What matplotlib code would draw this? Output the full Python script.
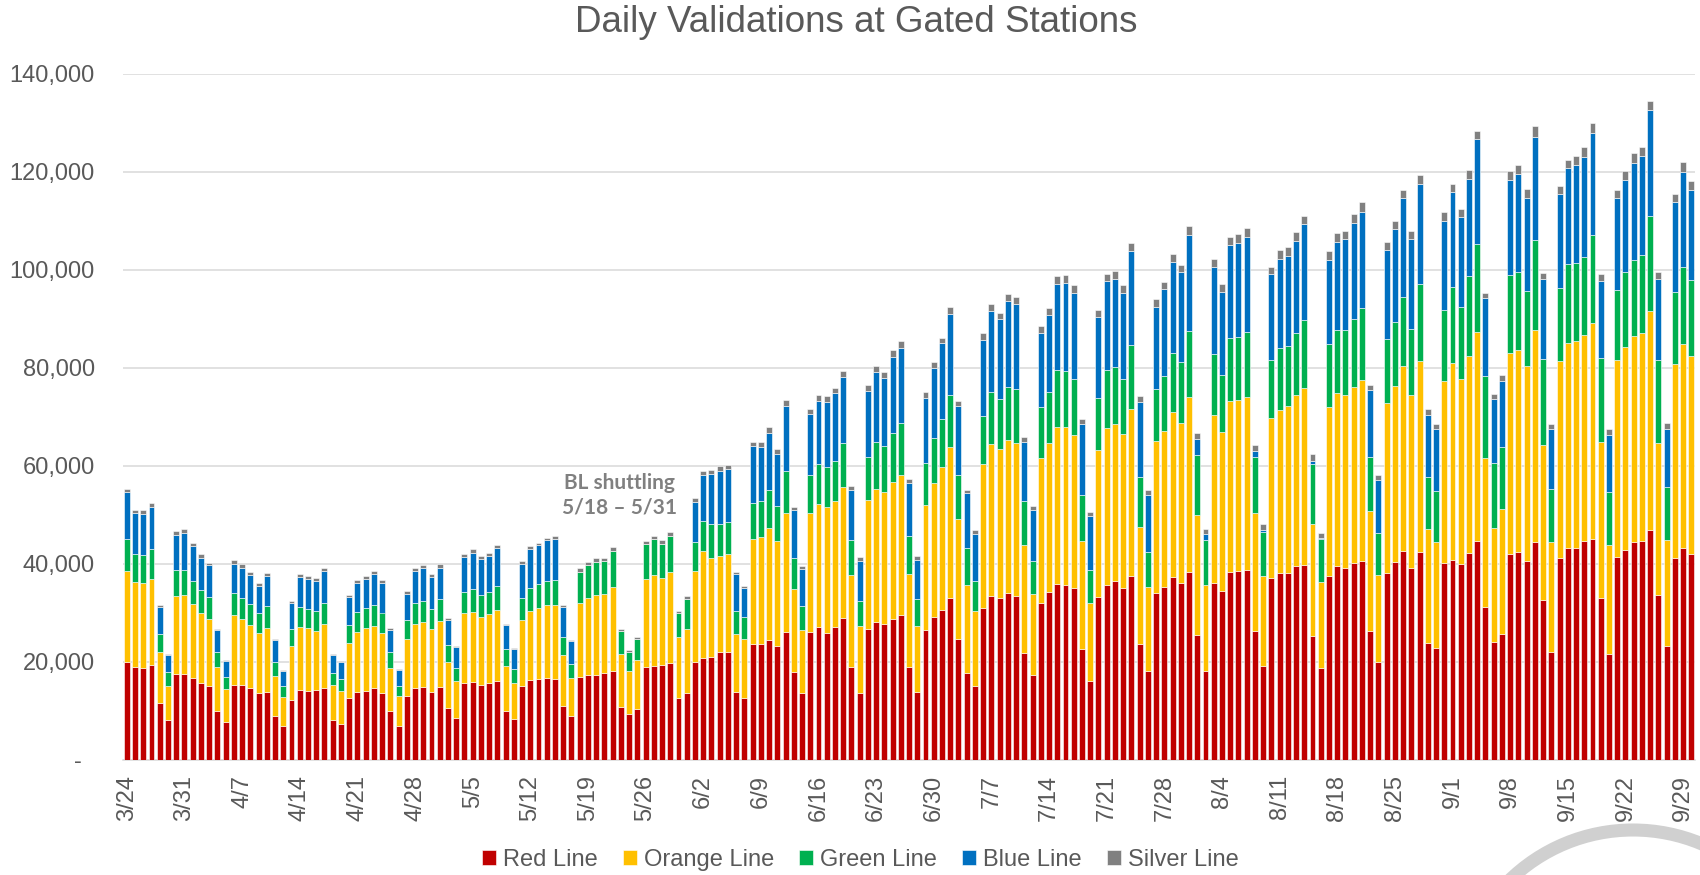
import numpy as np
import matplotlib
matplotlib.use("Agg")
import matplotlib.pyplot as plt
from matplotlib.patches import Ellipse
from matplotlib.ticker import FuncFormatter

plt.rcParams['font.family'] = ['Liberation Sans', 'DejaVu Sans']

# daily validations (thousands), 3/24 .. 9/30, one row per week starting Tuesday
red = [
    19.8, 18.9, 18.7, 19.2, 11.5, 8.0, 17.4,
    17.4, 16.6, 15.7, 14.9, 9.8, 7.7, 15.3,
    15.2, 14.5, 13.6, 13.8, 8.8, 6.8, 12.1,
    14.2, 14.0, 14.1, 14.6, 8.1, 7.3, 12.5,
    13.7, 13.9, 14.5, 13.6, 9.8, 6.9, 12.9,
    14.5, 14.8, 13.8, 14.7, 10.6, 8.5, 15.6,
    15.8, 15.3, 15.6, 16.0, 9.9, 8.3, 15.0,
    16.2, 16.4, 16.6, 16.5, 10.9, 8.9, 16.9,
    17.3, 17.2, 17.7, 18.1, 10.8, 9.3, 10.3,
    18.9, 19.1, 19.3, 19.6, 12.5, 13.6, 19.8,
    20.8, 21.0, 21.9, 21.9, 13.8, 12.5, 23.5,
    23.6, 24.4, 23.2, 26.1, 17.8, 13.6, 26.1,
    27.0, 25.9, 27.0, 28.9, 18.9, 13.6, 26.7,
    28.0, 27.6, 28.7, 29.4, 18.9, 13.8, 26.5,
    29.0, 30.6, 33.0, 24.6, 17.6, 15.1, 31.0,
    33.4, 32.9, 34.0, 33.4, 21.7, 17.3, 32.0,
    34.1, 35.9, 35.6, 35.0, 22.5, 16.1, 33.2,
    35.7, 36.5, 35.0, 37.4, 23.6, 18.1, 34.0,
    35.2, 37.2, 36.0, 38.2, 25.5, 18.1, 36.1,
    34.4, 38.2, 38.5, 38.7, 26.2, 19.0, 37.0,
    38.1, 38.1, 39.4, 39.7, 25.2, 18.6, 37.4,
    39.4, 39.0, 40.1, 40.6, 26.3, 20.0, 38.1,
    40.4, 42.5, 39.0, 42.4, 23.7, 22.8, 40.1,
    40.8, 39.8, 42.1, 44.5, 31.2, 24.0, 25.7,
    42.0, 42.3, 40.5, 44.3, 32.5, 22.0, 41.1,
    43.1, 43.2, 44.6, 45.1, 32.9, 21.6, 41.4,
    42.7, 44.3, 44.5, 46.8, 33.6, 23.2, 41.2,
    43.2, 41.9,
]
orange = [
    18.7, 17.4, 17.3, 17.7, 10.5, 7.1, 15.9,
    16.1, 15.1, 14.2, 13.8, 9.0, 6.7, 14.1,
    13.5, 12.9, 12.2, 13.0, 8.2, 6.0, 11.0,
    12.9, 12.8, 12.1, 13.0, 7.1, 6.7, 11.3,
    12.4, 12.9, 12.8, 12.2, 8.9, 6.1, 11.7,
    13.2, 13.3, 12.8, 13.6, 9.4, 7.5, 14.2,
    14.4, 13.7, 14.0, 14.6, 9.1, 7.4, 13.5,
    14.2, 14.6, 15.0, 15.0, 10.4, 7.7, 15.0,
    15.7, 16.3, 16.0, 17.2, 10.7, 8.8, 10.0,
    17.9, 18.5, 17.7, 18.7, 12.4, 13.0, 18.7,
    21.7, 20.2, 19.7, 20.1, 11.9, 12.1, 21.6,
    21.8, 22.8, 21.4, 24.3, 17.0, 12.8, 24.3,
    25.1, 25.7, 25.7, 26.7, 18.7, 13.7, 26.2,
    27.3, 27.0, 28.0, 28.7, 18.9, 13.4, 25.4,
    27.4, 29.0, 30.7, 24.5, 18.1, 15.3, 29.3,
    31.0, 30.4, 31.2, 31.1, 22.1, 16.5, 29.6,
    30.5, 31.9, 32.2, 31.3, 22.0, 15.9, 29.9,
    32.0, 32.0, 31.4, 34.1, 23.9, 17.1, 30.9,
    31.8, 33.7, 32.7, 35.8, 24.5, 17.6, 34.2,
    32.4, 34.9, 34.9, 35.3, 24.1, 18.4, 32.6,
    33.3, 34.0, 34.9, 36.1, 22.9, 17.6, 34.6,
    35.3, 35.3, 35.9, 36.9, 24.4, 17.7, 34.6,
    35.9, 37.8, 35.4, 38.9, 23.3, 21.5, 37.2,
    40.2, 37.9, 40.2, 42.7, 30.4, 23.3, 25.4,
    41.0, 41.3, 39.9, 43.3, 31.6, 22.4, 40.2,
    41.8, 42.2, 42.1, 43.9, 31.9, 22.2, 40.1,
    41.4, 42.1, 42.5, 44.7, 31.0, 21.6, 39.5,
    41.6, 40.4,
]
green = [
    6.5, 5.6, 5.7, 6.1, 3.7, 2.7, 5.4,
    5.2, 4.8, 4.6, 4.5, 3.1, 2.4, 4.5,
    4.3, 4.4, 4.1, 4.6, 3.0, 2.1, 3.6,
    4.1, 4.0, 4.2, 4.4, 2.5, 2.4, 3.6,
    4.1, 4.1, 4.2, 4.2, 3.2, 2.1, 3.9,
    4.2, 4.3, 4.2, 4.4, 3.4, 2.7, 4.4,
    4.5, 4.5, 4.5, 4.9, 3.5, 2.7, 4.5,
    4.7, 4.8, 4.9, 5.1, 3.8, 2.8, 6.4,
    6.7, 6.9, 6.9, 7.3, 4.7, 3.9, 4.2,
    7.1, 7.4, 7.0, 7.4, 4.9, 6.1, 5.8,
    6.1, 6.8, 6.4, 6.4, 4.7, 4.5, 7.3,
    7.3, 7.7, 7.2, 8.5, 6.4, 4.9, 7.7,
    8.3, 8.0, 8.2, 8.9, 7.2, 5.0, 8.9,
    9.5, 9.3, 10.0, 10.6, 7.8, 5.5, 8.7,
    9.3, 9.9, 10.7, 9.0, 7.5, 6.0, 9.9,
    10.5, 10.2, 10.9, 11.1, 8.9, 6.8, 10.4,
    10.4, 11.7, 11.5, 11.4, 9.4, 6.6, 10.6,
    11.7, 11.6, 11.3, 13.1, 10.2, 7.1, 10.7,
    11.2, 12.1, 12.4, 13.5, 12.2, 9.1, 12.4,
    11.7, 13.0, 12.8, 13.3, 11.5, 9.1, 12.0,
    12.5, 12.3, 12.8, 13.8, 12.3, 8.7, 12.7,
    13.0, 13.4, 14.0, 14.6, 11.0, 8.6, 13.2,
    13.0, 14.1, 13.5, 15.7, 10.7, 10.5, 14.5,
    15.4, 14.7, 16.3, 18.1, 16.6, 13.2, 12.6,
    15.8, 15.9, 15.3, 18.5, 17.6, 10.9, 15.0,
    16.2, 16.0, 15.9, 18.0, 17.1, 10.8, 14.4,
    15.3, 15.6, 15.9, 19.5, 16.9, 10.9, 14.8,
    15.7, 15.5,
]
blue = [
    9.5, 8.4, 8.5, 8.5, 5.4, 3.5, 7.2,
    7.6, 7.1, 6.7, 6.4, 4.5, 3.4, 6.1,
    6.1, 5.8, 5.6, 6.1, 4.3, 3.1, 5.2,
    6.1, 6.1, 6.1, 6.5, 3.6, 3.4, 5.7,
    5.9, 6.0, 6.4, 6.1, 4.6, 3.2, 5.3,
    6.6, 6.7, 6.5, 6.4, 5.1, 4.2, 7.2,
    7.5, 7.4, 7.5, 7.7, 4.9, 4.1, 7.0,
    7.9, 7.9, 8.3, 8.5, 6.1, 4.7, 0.0,
    0.0, 0.0, 0.0, 0.0, 0.0, 0.0, 0.0,
    0.0, 0.0, 0.0, 0.0, 0.0, 0.0, 8.2,
    9.4, 10.2, 10.9, 10.8, 7.4, 5.9, 11.5,
    11.1, 11.8, 10.5, 13.3, 9.7, 7.6, 12.5,
    12.8, 13.4, 13.8, 13.6, 10.3, 8.3, 13.4,
    14.3, 14.0, 15.5, 15.3, 10.9, 8.0, 13.1,
    14.3, 15.5, 16.6, 14.1, 11.1, 9.7, 15.5,
    16.7, 16.4, 17.5, 17.4, 12.1, 10.4, 15.1,
    15.8, 17.6, 18.0, 17.5, 14.6, 11.1, 16.7,
    18.2, 17.9, 17.5, 19.2, 15.3, 11.6, 16.8,
    17.8, 18.6, 18.3, 19.5, 3.2, 1.2, 17.8,
    17.0, 18.8, 19.3, 19.4, 1.2, 0.4, 17.4,
    18.3, 18.4, 18.7, 19.6, 0.6, 0.4, 17.2,
    18.0, 18.5, 19.4, 19.7, 13.8, 10.7, 18.1,
    18.9, 20.1, 18.3, 20.4, 12.7, 12.6, 18.1,
    19.4, 18.3, 19.8, 21.3, 15.9, 13.1, 13.6,
    19.5, 19.9, 18.8, 21.0, 16.3, 12.2, 19.1,
    19.6, 20.0, 20.4, 20.9, 15.8, 11.7, 18.6,
    18.9, 19.8, 20.3, 21.5, 16.6, 11.7, 18.2,
    19.4, 18.5,
]
silver = [
    0.7, 0.7, 0.7, 0.8, 0.4, 0.2, 0.7,
    0.7, 0.6, 0.7, 0.6, 0.3, 0.2, 0.7,
    0.7, 0.6, 0.6, 0.6, 0.3, 0.2, 0.4,
    0.5, 0.5, 0.5, 0.6, 0.2, 0.4, 0.5,
    0.6, 0.6, 0.6, 0.5, 0.3, 0.2, 0.6,
    0.6, 0.6, 0.6, 0.7, 0.3, 0.3, 0.6,
    0.7, 0.6, 0.6, 0.6, 0.3, 0.2, 0.5,
    0.6, 0.5, 0.5, 0.6, 0.4, 0.3, 0.7,
    0.6, 0.7, 0.6, 0.7, 0.5, 0.3, 0.4,
    0.7, 0.6, 0.7, 0.8, 0.5, 0.7, 0.8,
    0.9, 0.8, 0.9, 0.9, 0.4, 0.4, 0.9,
    1.0, 1.1, 1.0, 1.1, 0.7, 0.5, 1.0,
    1.1, 1.2, 1.2, 1.2, 0.8, 0.7, 1.3,
    1.2, 1.2, 1.3, 1.4, 0.7, 0.8, 1.2,
    1.2, 1.1, 1.4, 1.0, 0.8, 0.7, 1.3,
    1.3, 1.3, 1.4, 1.3, 1.0, 0.8, 1.3,
    1.4, 1.5, 1.5, 1.6, 1.0, 0.9, 1.4,
    1.5, 1.6, 1.6, 1.7, 1.1, 1.0, 1.5,
    1.5, 1.6, 1.5, 1.8, 1.2, 1.1, 1.7,
    1.6, 1.8, 1.7, 1.7, 1.2, 1.2, 1.6,
    1.7, 1.7, 1.8, 1.8, 1.3, 1.0, 1.8,
    1.7, 1.6, 1.9, 1.9, 1.0, 1.0, 1.7,
    1.6, 1.8, 1.7, 1.9, 1.2, 1.0, 1.8,
    1.7, 1.7, 2.0, 1.6, 1.2, 1.0, 1.2,
    1.8, 1.9, 1.9, 2.1, 1.3, 1.0, 1.7,
    1.7, 1.7, 1.9, 1.9, 1.4, 1.2, 1.8,
    1.9, 1.9, 1.9, 1.9, 1.4, 1.2, 1.8,
    2.0, 1.7,
]

week_labels = ['3/24', '3/31', '4/7', '4/14', '4/21', '4/28', '5/5', '5/12',
               '5/19', '5/26', '6/2', '6/9', '6/16', '6/23', '6/30', '7/7',
               '7/14', '7/21', '7/28', '8/4', '8/11', '8/18', '8/25', '9/1',
               '9/8', '9/15', '9/22', '9/29']

series = [("Red Line", red, "#C00000"),
          ("Orange Line", orange, "#FFC000"),
          ("Green Line", green, "#00B050"),
          ("Blue Line", blue, "#0070C0"),
          ("Silver Line", silver, "#808080")]

txt = "#595959"
fig = plt.figure(figsize=(17, 8.75), dpi=100)
ax = fig.add_axes([122.7 / 1700, 115.5 / 875, 1572.7 / 1700, 686 / 875])

x = np.arange(len(red))
bottom = np.zeros(len(red))
for name, vals, col in series:
    v = np.array(vals) * 1000
    ax.bar(x, v, 0.72, bottom=bottom, color=col, edgecolor="white",
           linewidth=0.4, label=name, zorder=3)
    bottom += v

ax.set_xlim(-0.5, len(red) - 0.5)
ax.set_ylim(0, 140000)
ax.set_yticks(np.arange(0, 140001, 20000))
ax.yaxis.set_major_formatter(FuncFormatter(lambda v, p: f"{v:,.0f}" if v else "-  "))
ax.set_xticks(np.arange(0, len(red), 7))
ax.set_xticklabels(week_labels, rotation=90)
ax.tick_params(axis="y", length=0, pad=20, labelsize=17, labelcolor=txt)
ax.tick_params(axis="x", length=0, pad=11, labelsize=17, labelcolor=txt)
ax.grid(axis="y", color="#D9D9D9", linewidth=1.1, zorder=0)
for s in ["top", "right", "left"]:
    ax.spines[s].set_visible(False)
ax.spines["bottom"].set_color("#D9D9D9")
ax.spines["bottom"].set_linewidth(1.1)

ax.text(59.8, 54000, "BL shuttling\n5/18 \u2013 5/31", ha="center", va="center",
        fontsize=15, fontweight="bold", color="#808080", family="Lato",
        linespacing=1.3, zorder=4)

fig.text(0.5036, 1 - 23 / 875, "Daily Validations at Gated Stations",
         ha="center", va="center", fontsize=26.5, color=txt)

fig.legend(loc="center", bbox_to_anchor=(0.506, 15 / 875), ncol=5, frameon=False,
           fontsize=17, handlelength=0.6, handleheight=0.6, handletextpad=0.3,
           columnspacing=1.05, labelcolor=txt)

fig.add_artist(Ellipse((1633 / 1700, -132 / 875), 354 / 1700, 354 / 875,
                       transform=fig.transFigure, fill=False,
                       edgecolor="#D0D0D0", linewidth=9.4))

fig.savefig("out.png", dpi=100)
